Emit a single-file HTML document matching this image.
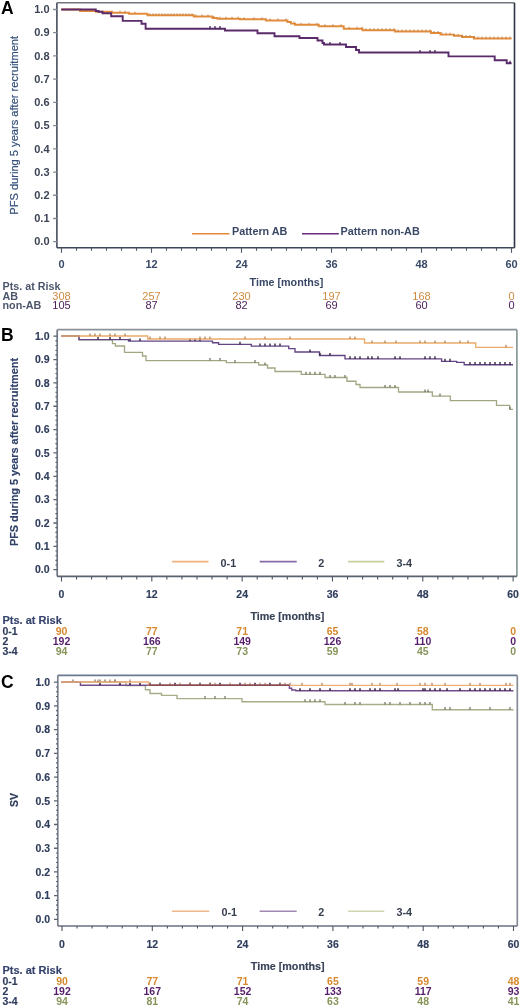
<!DOCTYPE html>
<html><head><meta charset="utf-8"><title>Kaplan-Meier curves</title>
<style>html,body{margin:0;padding:0;background:#fff;}body{width:520px;height:1007px;position:relative;overflow:hidden;font-family:"Liberation Sans", sans-serif;}</style>
</head><body>
<svg width="520" height="1007" viewBox="0 0 520 1007" style="position:absolute;left:0;top:0;will-change:transform;filter:blur(0.3px)">
<style>
text{font-family:"Liberation Sans",sans-serif;font-weight:bold;}
.let{font-size:17.5px;fill:#000;}
.cv{mix-blend-mode:multiply;}
.yl{text-anchor:end;}
.xl,.tt,.rn{text-anchor:middle;}
.yt{text-anchor:middle;}
.pA text{font-size:10.5px;fill:#434c5e;}
.pA .yt{font-size:11.1px;font-weight:normal;fill:#34507a;stroke:#34507a;stroke-width:0.2px;}
.pA .lg{font-size:10.8px;fill:#3a4866;}
.pA .tt{font-size:10.75px;fill:#3a4866;}
.pA .rh,.pA .rl{font-size:10.75px;fill:#4c566c;}
.pA .rn{font-size:11px;font-weight:normal;}
.pA .yl,.pA .xl{font-size:11px;fill:#3c4456;}
.pA .xl{fill:#3a4a68;}
.pB text,.pC text{font-size:10.5px;fill:#2f3d5c;stroke:#2f3d5c;stroke-width:0.15px;}
.pB .rh,.pC .rh{font-size:11px;fill:#34426c;stroke:#34426c;}
.pB .rl,.pC .rl{fill:#303c5e;stroke:#303c5e;}
.pB .tt,.pC .tt{font-size:10.75px;fill:#374158;stroke:#374158;}
.pB .yt{font-size:10.9px;fill:#31426a;stroke:#31426a;}
.pC .yt{font-size:10.5px;}
.pB .lg,.pC .lg{font-size:10.8px;stroke:none;fill:#363e50;}
.pB .rn,.pC .rn{stroke:none;}
</style>
<rect width="520" height="1007" fill="#ffffff"/>
<g><text class="let" x="1" y="14.4">A</text><path d="M61.20,9.50 H80.00 V11.00 H96.00 V11.70 H112.00 V12.70 H129.00 V13.75 H147.50 V15.30 H193.75 V16.50 H212.50 V18.00 H217.50 V18.75 H240.00 V19.30 H266.00 V20.50 H287.50 V22.00 H291.00 V23.60 H295.00 V24.80 H318.75 V26.25 H343.75 V28.75 H362.50 V30.25 H395.00 V31.50 H431.00 V33.00 H440.40 V34.60 H454.00 V35.80 H462.00 V37.00 H474.00 V38.50 H511.60" fill="none" stroke="#e38c3c" stroke-width="1.9"/><path d="M120,12.70v-2.0M125,12.70v-2.0M135,13.75v-2.0M150,15.30v-2.0M153,15.30v-2.0M156,15.30v-2.0M159,15.30v-2.0M162,15.30v-2.0M165,15.30v-2.0M168,15.30v-2.0M171,15.30v-2.0M174,15.30v-2.0M177,15.30v-2.0M180,15.30v-2.0M183,15.30v-2.0M186,15.30v-2.0M189,15.30v-2.0M192,15.30v-2.0M196,16.50v-2.0M202,16.50v-2.0M208,16.50v-2.0M214,18.00v-2.0M220,18.75v-2.0M226,18.75v-2.0M232,18.75v-2.0M238,18.75v-2.0M244,19.30v-2.0M254,19.30v-2.0M262,19.30v-2.0M270,20.50v-2.0M278,20.50v-2.0M286,20.50v-2.0M294,23.60v-2.0M301,24.80v-2.0M309,24.80v-2.0M317,24.80v-2.0M325,26.25v-2.0M333,26.25v-2.0M341,26.25v-2.0M349,28.75v-2.0M357,28.75v-2.0M362,28.75v-2.0M366,30.25v-2.0M370,30.25v-2.0M374,30.25v-2.0M378,30.25v-2.0M382,30.25v-2.0M386,30.25v-2.0M390,30.25v-2.0M394,30.25v-2.0M398,31.50v-2.0M402,31.50v-2.0M406,31.50v-2.0M410,31.50v-2.0M414,31.50v-2.0M418,31.50v-2.0M422,31.50v-2.0M426,31.50v-2.0M430,31.50v-2.0M434,33.00v-2.0M438,33.00v-2.0M442,34.60v-2.0M446,34.60v-2.0M450,34.60v-2.0M454,35.80v-2.0M458,35.80v-2.0M462,37.00v-2.0M466,37.00v-2.0M470,37.00v-2.0M474,38.50v-2.0M478,38.50v-2.0M482,38.50v-2.0M486,38.50v-2.0M490,38.50v-2.0M494,38.50v-2.0M498,38.50v-2.0M502,38.50v-2.0M506,38.50v-2.0M510,38.50v-2.0" fill="none" stroke="#c07a40" stroke-width="0.9"/><path d="M61.20,9.50 H95.80 V11.00 H98.50 V11.70 H102.50 V13.30 H111.20 V16.20 H122.70 V20.90 H141.50 V23.80 H145.60 V28.70 H225.00 V30.50 H257.50 V33.25 H274.50 V36.25 H299.50 V38.00 H317.50 V40.50 H322.50 V43.00 H324.00 V44.50 H346.00 V47.00 H356.00 V50.00 H359.00 V52.50 H448.50 V56.40 H494.70 V60.30 H506.70 V63.30 H511.60" fill="none" stroke="#5a2a6a" stroke-width="1.9"/><path d="M210,28.70v-2.6M215,28.70v-2.6M220,28.70v-2.6M330,44.50v-2.6M340,44.50v-2.6M420,52.50v-2.6M430,52.50v-2.6M435,52.50v-2.6M510,63.30v-2.6" fill="none" stroke="#3a1a4a" stroke-width="1.2"/><path d="M56.9,247.8 V2.8" fill="none" stroke="#454c5c" stroke-width="1.6"/><path d="M56.9,2.8 H514.5" fill="none" stroke="#70767e" stroke-width="1.6"/><path d="M514.5,2.8 V247.8" fill="none" stroke="#2e3444" stroke-width="1.6"/><path d="M514.5,247.8 H56.9" fill="none" stroke="#3e4658" stroke-width="1.6"/><path d="M53.1,241.70H56.9M53.1,218.48H56.9M53.1,195.26H56.9M53.1,172.04H56.9M53.1,148.82H56.9M53.1,125.60H56.9M53.1,102.38H56.9M53.1,79.16H56.9M53.1,55.94H56.9M53.1,32.72H56.9M53.1,9.50H56.9" stroke="#858b95" stroke-width="1.3"/><path d="M61.50,247.8v5M76.50,247.8v3M91.50,247.8v3M106.50,247.8v3M121.50,247.8v3M136.50,247.8v3M151.50,247.8v5M166.50,247.8v3M181.50,247.8v3M196.50,247.8v3M211.50,247.8v3M226.50,247.8v3M241.50,247.8v5M256.50,247.8v3M271.50,247.8v3M286.50,247.8v3M301.50,247.8v3M316.50,247.8v3M331.50,247.8v5M346.50,247.8v3M361.50,247.8v3M376.50,247.8v3M391.50,247.8v3M406.50,247.8v3M421.50,247.8v5M436.50,247.8v3M451.50,247.8v3M466.50,247.8v3M481.50,247.8v3M496.50,247.8v3M511.50,247.8v5" stroke="#4e5564" stroke-width="1.1"/><path d="M192,233.8H229.5" stroke="#e38a3a" stroke-width="1.6"/><path d="M302,233.8H338.8" stroke="#6a2a82" stroke-width="1.6"/><g class="pA"><text class="yl" x="49.50" y="245.40">0.0</text><text class="yl" x="49.50" y="222.18">0.1</text><text class="yl" x="49.50" y="198.96">0.2</text><text class="yl" x="49.50" y="175.74">0.3</text><text class="yl" x="49.50" y="152.52">0.4</text><text class="yl" x="49.50" y="129.30">0.5</text><text class="yl" x="49.50" y="106.08">0.6</text><text class="yl" x="49.50" y="82.86">0.7</text><text class="yl" x="49.50" y="59.64">0.8</text><text class="yl" x="49.50" y="36.42">0.9</text><text class="yl" x="49.50" y="13.20">1.0</text><text class="xl" x="61.50" y="267.5">0</text><text class="xl" x="151.50" y="267.5">12</text><text class="xl" x="241.50" y="267.5">24</text><text class="xl" x="331.50" y="267.5">36</text><text class="xl" x="421.50" y="267.5">48</text><text class="xl" x="511.50" y="267.5">60</text><text class="tt" x="286.50" y="286">Time [months]</text><text class="yt" transform="translate(17.5,125.3) rotate(-90)">PFS during 5 years after recruitment</text><text class="lg" x="232" y="234.5">Pattern AB</text><text class="lg" x="340.5" y="234.5">Pattern non-AB</text><text class="rh" x="2.5" y="290">Pts. at Risk</text><text class="rl" x="2.5" y="299.6">AB</text><text class="rn" x="61.50" y="299.6" style="fill:#d08a40">308</text><text class="rn" x="151.50" y="299.6" style="fill:#d08a40">257</text><text class="rn" x="241.50" y="299.6" style="fill:#d08a40">230</text><text class="rn" x="331.50" y="299.6" style="fill:#d08a40">197</text><text class="rn" x="421.50" y="299.6" style="fill:#d08a40">168</text><text class="rn" x="511.50" y="299.6" style="fill:#d08a40">0</text><text class="rl" x="2.5" y="309.0">non-AB</text><text class="rn" x="61.50" y="309.0" style="fill:#4e2258">105</text><text class="rn" x="151.50" y="309.0" style="fill:#4e2258">87</text><text class="rn" x="241.50" y="309.0" style="fill:#4e2258">82</text><text class="rn" x="331.50" y="309.0" style="fill:#4e2258">69</text><text class="rn" x="421.50" y="309.0" style="fill:#4e2258">60</text><text class="rn" x="511.50" y="309.0" style="fill:#4e2258">0</text></g></g>
<g><text class="let" x="1" y="341">B</text><path d="M61.20,336.00 H79.00 V339.80 H112.50 V343.60 H115.40 V346.00 H124.50 V352.30 H142.50 V356.00 H146.00 V360.60 H226.25 V362.70 H258.75 V365.00 H267.50 V368.00 H275.00 V371.50 H301.25 V374.40 H325.00 V377.50 H347.00 V381.25 H356.00 V384.50 H360.00 V387.50 H398.50 V392.00 H432.30 V396.10 H450.30 V400.70 H496.50 V405.40 H509.70 V409.30 H513.00" fill="none" stroke="#a2a682" stroke-width="1.3"/><path d="M210,360.60v-2.6M220,360.60v-2.6M235,362.70v-2.6M255,362.70v-2.6M265,365.00v-2.6M306,374.40v-2.6M310,374.40v-2.6M315,374.40v-2.6M320,374.40v-2.6M330,377.50v-2.6M335,377.50v-2.6M345,377.50v-2.6M385,387.50v-2.6M390,387.50v-2.6M395,387.50v-2.6M425,392.00v-2.6M428,392.00v-2.6M440,396.10v-2.6M510,409.30v-2.6" fill="none" stroke="#6a7058" stroke-width="1.2"/><path d="M61.20,336.00 H79.00 V339.60 H128.50 V341.10 H212.50 V342.70 H218.60 V344.40 H251.30 V346.10 H288.75 V348.60 H295.00 V352.00 H319.50 V355.50 H345.00 V358.90 H441.60 V361.40 H456.60 V362.40 H464.20 V364.70 H513.00" fill="none" stroke="#624484" stroke-width="1.35"/><path d="M98,339.60v-2.6M110,339.60v-2.6M120,339.60v-2.6M130,341.10v-2.6M140,341.10v-2.6M190,341.10v-2.6M195,341.10v-2.6M200,341.10v-2.6M240,344.40v-2.6M260,346.10v-2.6M265,346.10v-2.6M270,346.10v-2.6M275,346.10v-2.6M280,346.10v-2.6M310,352.00v-2.6M320,355.50v-2.6M330,355.50v-2.6M350,358.90v-2.6M355,358.90v-2.6M360,358.90v-2.6M368,358.90v-2.6M372,358.90v-2.6M378,358.90v-2.6M395,358.90v-2.6M400,358.90v-2.6M425,358.90v-2.6M430,358.90v-2.6M435,358.90v-2.6M445,361.40v-2.6M450,361.40v-2.6M470,364.70v-2.6M475,364.70v-2.6M480,364.70v-2.6M485,364.70v-2.6M490,364.70v-2.6M495,364.70v-2.6M500,364.70v-2.6M505,364.70v-2.6M510,364.70v-2.6" fill="none" stroke="#2a1a35" stroke-width="1.3"/><path d="M61.20,336.00 H147.70 V339.00 H364.50 V343.00 H475.75 V347.40 H513.00" fill="none" stroke="#eaaa6a" stroke-width="1.3"/><path d="M90,336.00v-2.6M95,336.00v-2.6M100,336.00v-2.6M110,336.00v-2.6M115,336.00v-2.6M125,336.00v-2.6M150,339.00v-2.6M160,339.00v-2.6M165,339.00v-2.6M200,339.00v-2.6M205,339.00v-2.6M210,339.00v-2.6M245,339.00v-2.6M265,339.00v-2.6M290,339.00v-2.6M350,339.00v-2.6M355,339.00v-2.6M372,343.00v-2.6M385,343.00v-2.6M396,343.00v-2.6M420,343.00v-2.6M425,343.00v-2.6M435,343.00v-2.6M445,343.00v-2.6M460,343.00v-2.6M468,343.00v-2.6M506,347.40v-2.6" fill="none" stroke="#b08050" stroke-width="1.2"/><path d="M57.2,576.4 V329.7" fill="none" stroke="#6e7684" stroke-width="1.7"/><path d="M57.2,329.7 H516.9" fill="none" stroke="#8a9098" stroke-width="1.7"/><path d="M516.9,329.7 V576.4" fill="none" stroke="#8a9898" stroke-width="1.7"/><path d="M516.9,576.4 H57.2" fill="none" stroke="#5a6270" stroke-width="1.7"/><path d="M53.400000000000006,569.70H57.2M53.400000000000006,546.35H57.2M53.400000000000006,523.00H57.2M53.400000000000006,499.65H57.2M53.400000000000006,476.30H57.2M53.400000000000006,452.95H57.2M53.400000000000006,429.60H57.2M53.400000000000006,406.25H57.2M53.400000000000006,382.90H57.2M53.400000000000006,359.55H57.2M53.400000000000006,336.20H57.2" stroke="#5a6270" stroke-width="1.3"/><path d="M55.400000000000006,565.03H57.2M55.400000000000006,560.36H57.2M55.400000000000006,555.69H57.2M55.400000000000006,551.02H57.2M55.400000000000006,541.68H57.2M55.400000000000006,537.01H57.2M55.400000000000006,532.34H57.2M55.400000000000006,527.67H57.2M55.400000000000006,518.33H57.2M55.400000000000006,513.66H57.2M55.400000000000006,508.99H57.2M55.400000000000006,504.32H57.2M55.400000000000006,494.98H57.2M55.400000000000006,490.31H57.2M55.400000000000006,485.64H57.2M55.400000000000006,480.97H57.2M55.400000000000006,471.63H57.2M55.400000000000006,466.96H57.2M55.400000000000006,462.29H57.2M55.400000000000006,457.62H57.2M55.400000000000006,448.28H57.2M55.400000000000006,443.61H57.2M55.400000000000006,438.94H57.2M55.400000000000006,434.27H57.2M55.400000000000006,424.93H57.2M55.400000000000006,420.26H57.2M55.400000000000006,415.59H57.2M55.400000000000006,410.92H57.2M55.400000000000006,401.58H57.2M55.400000000000006,396.91H57.2M55.400000000000006,392.24H57.2M55.400000000000006,387.57H57.2M55.400000000000006,378.23H57.2M55.400000000000006,373.56H57.2M55.400000000000006,368.89H57.2M55.400000000000006,364.22H57.2M55.400000000000006,354.88H57.2M55.400000000000006,350.21H57.2M55.400000000000006,345.54H57.2M55.400000000000006,340.87H57.2" stroke="#5a6270" stroke-width="1.1"/><path d="M61.50,576.4v5M76.55,576.4v3M91.61,576.4v3M106.66,576.4v3M121.72,576.4v3M136.77,576.4v3M151.82,576.4v5M166.88,576.4v3M181.93,576.4v3M196.99,576.4v3M212.04,576.4v3M227.09,576.4v3M242.15,576.4v5M257.20,576.4v3M272.26,576.4v3M287.31,576.4v3M302.36,576.4v3M317.42,576.4v3M332.47,576.4v5M347.53,576.4v3M362.58,576.4v3M377.63,576.4v3M392.69,576.4v3M407.74,576.4v3M422.80,576.4v5M437.85,576.4v3M452.90,576.4v3M467.96,576.4v3M483.01,576.4v3M498.07,576.4v3M513.12,576.4v5" stroke="#4e5564" stroke-width="1.1"/><path d="M172,561.6H208.5" stroke="#f2b27a" stroke-width="1.6"/><path d="M259.7,561.6H296.7" stroke="#8a6aa8" stroke-width="1.6"/><path d="M348,561.6H384.3" stroke="#c8d0a0" stroke-width="1.6"/><g class="pB"><text class="yl" x="49.60" y="573.40">0.0</text><text class="yl" x="49.60" y="550.05">0.1</text><text class="yl" x="49.60" y="526.70">0.2</text><text class="yl" x="49.60" y="503.35">0.3</text><text class="yl" x="49.60" y="480.00">0.4</text><text class="yl" x="49.60" y="456.65">0.5</text><text class="yl" x="49.60" y="433.30">0.6</text><text class="yl" x="49.60" y="409.95">0.7</text><text class="yl" x="49.60" y="386.60">0.8</text><text class="yl" x="49.60" y="363.25">0.9</text><text class="yl" x="49.60" y="339.90">1.0</text><text class="xl" x="61.50" y="598">0</text><text class="xl" x="151.82" y="598">12</text><text class="xl" x="242.15" y="598">24</text><text class="xl" x="332.47" y="598">36</text><text class="xl" x="422.80" y="598">48</text><text class="xl" x="513.12" y="598">60</text><text class="tt" x="287.31" y="620">Time [months]</text><text class="yt" transform="translate(18,452) rotate(-90)">PFS during 5 years after recruitment</text><text class="lg" x="220.6" y="566.5">0-1</text><text class="lg" x="318.3" y="566.5">2</text><text class="lg" x="396.5" y="566.5">3-4</text><text class="rh" x="2.5" y="624.0">Pts. at Risk</text><text class="rl" x="2.5" y="634.8">0-1</text><text class="rn" x="61.50" y="634.8" style="fill:#d8882e">90</text><text class="rn" x="151.82" y="634.8" style="fill:#d8882e">77</text><text class="rn" x="242.15" y="634.8" style="fill:#d8882e">71</text><text class="rn" x="332.47" y="634.8" style="fill:#d8882e">65</text><text class="rn" x="422.80" y="634.8" style="fill:#d8882e">58</text><text class="rn" x="513.12" y="634.8" style="fill:#d8882e">0</text><text class="rl" x="2.5" y="644.6">2</text><text class="rn" x="61.50" y="644.6" style="fill:#561e6a">192</text><text class="rn" x="151.82" y="644.6" style="fill:#561e6a">166</text><text class="rn" x="242.15" y="644.6" style="fill:#561e6a">149</text><text class="rn" x="332.47" y="644.6" style="fill:#561e6a">126</text><text class="rn" x="422.80" y="644.6" style="fill:#561e6a">110</text><text class="rn" x="513.12" y="644.6" style="fill:#561e6a">0</text><text class="rl" x="2.5" y="654.6">3-4</text><text class="rn" x="61.50" y="654.6" style="fill:#86945a">94</text><text class="rn" x="151.82" y="654.6" style="fill:#86945a">77</text><text class="rn" x="242.15" y="654.6" style="fill:#86945a">73</text><text class="rn" x="332.47" y="654.6" style="fill:#86945a">59</text><text class="rn" x="422.80" y="654.6" style="fill:#86945a">45</text><text class="rn" x="513.12" y="654.6" style="fill:#86945a">0</text></g></g>
<g><text class="let" x="1" y="687.5">C</text><path d="M61.20,682.00 H126.00 V685.60 H145.40 V689.70 H150.00 V693.50 H161.50 V695.40 H177.00 V698.60 H242.00 V701.75 H325.00 V704.50 H432.30 V709.70 H513.50" fill="none" stroke="#a9ad88" stroke-width="1.4"/><path d="M73,682.00v-2.6M95,682.00v-2.6M100,682.00v-2.6M105,682.00v-2.6M115,682.00v-2.6M205,698.60v-2.6M215,698.60v-2.6M225,698.60v-2.6M305,701.75v-2.6M310,701.75v-2.6M315,701.75v-2.6M320,701.75v-2.6M345,704.50v-2.6M355,704.50v-2.6M360,704.50v-2.6M385,704.50v-2.6M390,704.50v-2.6M400,704.50v-2.6M410,704.50v-2.6M420,704.50v-2.6M425,704.50v-2.6M430,704.50v-2.6M445,709.70v-2.6M450,709.70v-2.6M470,709.70v-2.6M490,709.70v-2.6M510,709.70v-2.6" fill="none" stroke="#6a7060" stroke-width="1.2"/><path d="M61.20,682.00 H80.40 V685.30 H289.40 V688.30 H291.70 V690.00 H295.80 V690.80 H513.50" fill="none" stroke="#744c8c" stroke-width="1.4"/><path d="M100,685.30v-2.6M120,685.30v-2.6M130,685.30v-2.6M140,685.30v-2.6M150,685.30v-2.6M160,685.30v-2.6M175,685.30v-2.6M190,685.30v-2.6M200,685.30v-2.6M210,685.30v-2.6M220,685.30v-2.6M240,685.30v-2.6M255,685.30v-2.6M270,685.30v-2.6M280,685.30v-2.6M300,690.80v-2.6M310,690.80v-2.6M320,690.80v-2.6M330,690.80v-2.6M350,690.80v-2.6M355,690.80v-2.6M360,690.80v-2.6M370,690.80v-2.6M375,690.80v-2.6M380,690.80v-2.6M395,690.80v-2.6M398,690.80v-2.6M423,690.80v-2.6M425,690.80v-2.6M430,690.80v-2.6M435,690.80v-2.6M440,690.80v-2.6M447,690.80v-2.6M460,690.80v-2.6M470,690.80v-2.6M475,690.80v-2.6M480,690.80v-2.6M485,690.80v-2.6M490,690.80v-2.6M495,690.80v-2.6M500,690.80v-2.6M505,690.80v-2.6M510,690.80v-2.6" fill="none" stroke="#2a1a35" stroke-width="1.4"/><path d="M61.20,682.00 H148.50 V685.30 H513.50" fill="none" stroke="#eeae76" stroke-width="1.3"/><path d="M98,682.00v-2.6M110,682.00v-2.6M115,682.00v-2.6M130,682.00v-2.6M150,685.30v-2.6M160,685.30v-2.6M170,685.30v-2.6M180,685.30v-2.6M190,685.30v-2.6M200,685.30v-2.6M210,685.30v-2.6M215,685.30v-2.6M230,685.30v-2.6M245,685.30v-2.6M250,685.30v-2.6M260,685.30v-2.6M265,685.30v-2.6M280,685.30v-2.6M285,685.30v-2.6M290,685.30v-2.6M302,685.30v-2.6M322,685.30v-2.6M350,685.30v-2.6M352,685.30v-2.6M372,685.30v-2.6M380,685.30v-2.6M397,685.30v-2.6M420,685.30v-2.6M425,685.30v-2.6M432,685.30v-2.6M445,685.30v-2.6M470,685.30v-2.6M480,685.30v-2.6M506,685.30v-2.6M510,685.30v-2.6" fill="none" stroke="#b08060" stroke-width="1.2"/><path d="M148.5,685.3H289.4" stroke="#8a4a52" stroke-width="1.6"/><path d="M57.8,926 V675.3" fill="none" stroke="#7a808c" stroke-width="1.7"/><path d="M57.8,675.3 H517.3" fill="none" stroke="#6a7a90" stroke-width="1.7"/><path d="M517.3,675.3 V926" fill="none" stroke="#858a95" stroke-width="1.7"/><path d="M517.3,926 H57.8" fill="none" stroke="#6a7080" stroke-width="1.7"/><path d="M54.0,919.40H57.8M54.0,895.68H57.8M54.0,871.96H57.8M54.0,848.24H57.8M54.0,824.52H57.8M54.0,800.80H57.8M54.0,777.08H57.8M54.0,753.36H57.8M54.0,729.64H57.8M54.0,705.92H57.8M54.0,682.20H57.8" stroke="#5a6270" stroke-width="1.3"/><path d="M56.0,914.66H57.8M56.0,909.91H57.8M56.0,905.17H57.8M56.0,900.42H57.8M56.0,890.94H57.8M56.0,886.19H57.8M56.0,881.45H57.8M56.0,876.70H57.8M56.0,867.22H57.8M56.0,862.47H57.8M56.0,857.73H57.8M56.0,852.98H57.8M56.0,843.50H57.8M56.0,838.75H57.8M56.0,834.01H57.8M56.0,829.26H57.8M56.0,819.78H57.8M56.0,815.03H57.8M56.0,810.29H57.8M56.0,805.54H57.8M56.0,796.06H57.8M56.0,791.31H57.8M56.0,786.57H57.8M56.0,781.82H57.8M56.0,772.34H57.8M56.0,767.59H57.8M56.0,762.85H57.8M56.0,758.10H57.8M56.0,748.62H57.8M56.0,743.87H57.8M56.0,739.13H57.8M56.0,734.38H57.8M56.0,724.90H57.8M56.0,720.15H57.8M56.0,715.41H57.8M56.0,710.66H57.8M56.0,701.18H57.8M56.0,696.43H57.8M56.0,691.69H57.8M56.0,686.94H57.8" stroke="#5a6270" stroke-width="1.1"/><path d="M62.00,926v5M77.05,926v2.4M92.10,926v2.4M107.15,926v2.4M122.20,926v2.4M137.25,926v2.4M152.30,926v5M167.35,926v2.4M182.40,926v2.4M197.45,926v2.4M212.50,926v2.4M227.55,926v2.4M242.60,926v5M257.65,926v2.4M272.70,926v2.4M287.75,926v2.4M302.80,926v2.4M317.85,926v2.4M332.90,926v5M347.95,926v2.4M363.00,926v2.4M378.05,926v2.4M393.10,926v2.4M408.15,926v2.4M423.20,926v5M438.25,926v2.4M453.30,926v2.4M468.35,926v2.4M483.40,926v2.4M498.45,926v2.4M513.50,926v5" stroke="#4e5564" stroke-width="1.1"/><path d="M172,911.2H209.3" stroke="#f0b88a" stroke-width="1.6"/><path d="M259.7,911.2H296.7" stroke="#a088b0" stroke-width="1.6"/><path d="M348,911.2H384.3" stroke="#d0d6b0" stroke-width="1.6"/><g class="pC"><text class="yl" x="50.00" y="923.10">0.0</text><text class="yl" x="50.00" y="899.38">0.1</text><text class="yl" x="50.00" y="875.66">0.2</text><text class="yl" x="50.00" y="851.94">0.3</text><text class="yl" x="50.00" y="828.22">0.4</text><text class="yl" x="50.00" y="804.50">0.5</text><text class="yl" x="50.00" y="780.78">0.6</text><text class="yl" x="50.00" y="757.06">0.7</text><text class="yl" x="50.00" y="733.34">0.8</text><text class="yl" x="50.00" y="709.62">0.9</text><text class="yl" x="50.00" y="685.90">1.0</text><text class="xl" x="62.00" y="948">0</text><text class="xl" x="152.30" y="948">12</text><text class="xl" x="242.60" y="948">24</text><text class="xl" x="332.90" y="948">36</text><text class="xl" x="423.20" y="948">48</text><text class="xl" x="513.50" y="948">60</text><text class="tt" x="287.75" y="970">Time [months]</text><text class="yt" transform="translate(18.4,800) rotate(-90)">SV</text><text class="lg" x="221.5" y="916.3">0-1</text><text class="lg" x="318.3" y="916.3">2</text><text class="lg" x="396.5" y="916.3">3-4</text><text class="rh" x="2.5" y="974.4">Pts. at Risk</text><text class="rl" x="2.5" y="985.2">0-1</text><text class="rn" x="62.00" y="985.2" style="fill:#d8882e">90</text><text class="rn" x="152.30" y="985.2" style="fill:#d8882e">77</text><text class="rn" x="242.60" y="985.2" style="fill:#d8882e">71</text><text class="rn" x="332.90" y="985.2" style="fill:#d8882e">65</text><text class="rn" x="423.20" y="985.2" style="fill:#d8882e">59</text><text class="rn" x="513.50" y="985.2" style="fill:#d8882e">48</text><text class="rl" x="2.5" y="995.2">2</text><text class="rn" x="62.00" y="995.2" style="fill:#561e6a">192</text><text class="rn" x="152.30" y="995.2" style="fill:#561e6a">167</text><text class="rn" x="242.60" y="995.2" style="fill:#561e6a">152</text><text class="rn" x="332.90" y="995.2" style="fill:#561e6a">133</text><text class="rn" x="423.20" y="995.2" style="fill:#561e6a">117</text><text class="rn" x="513.50" y="995.2" style="fill:#561e6a">93</text><text class="rl" x="2.5" y="1005.2">3-4</text><text class="rn" x="62.00" y="1005.2" style="fill:#86945a">94</text><text class="rn" x="152.30" y="1005.2" style="fill:#86945a">81</text><text class="rn" x="242.60" y="1005.2" style="fill:#86945a">74</text><text class="rn" x="332.90" y="1005.2" style="fill:#86945a">63</text><text class="rn" x="423.20" y="1005.2" style="fill:#86945a">48</text><text class="rn" x="513.50" y="1005.2" style="fill:#86945a">41</text></g></g>
</svg>
</body></html>
